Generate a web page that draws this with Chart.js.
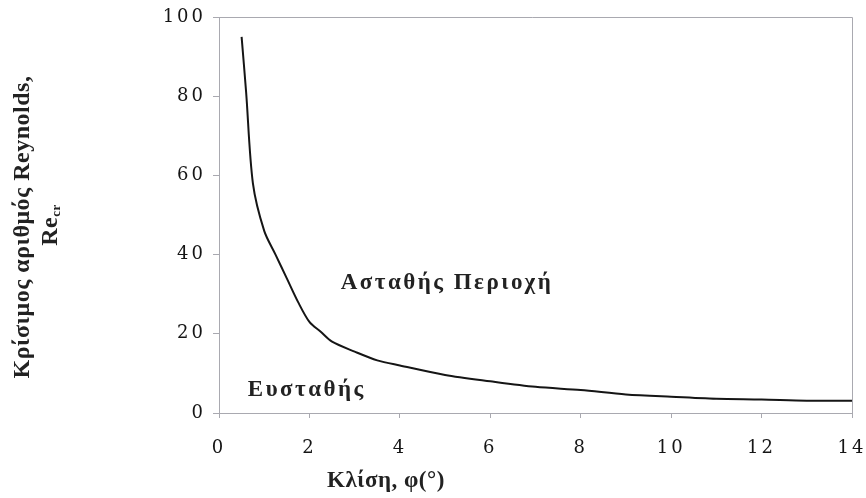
<!DOCTYPE html>
<html>
<head>
<meta charset="utf-8">
<script src="https://cdn.jsdelivr.net/npm/chart.js@4/dist/chart.umd.min.js"></script>
<style>
  html, body { margin: 0; padding: 0; background: #fff; }
  #wrap { width: 866px; height: 498px; }
</style>
</head>
<body>
<div id="wrap"><canvas id="myChart" width="866" height="498"></canvas></div>
<script>
// inclination (deg) vs critical Reynolds number
let angles = [0.5, 0.6, 0.75, 1, 1.25, 1.5, 1.75, 2, 2.25, 2.5, 3, 3.5, 4, 5, 6, 7, 8, 9, 10, 11, 12, 13, 14];
let reCritical = [95, 81, 58, 46, 40, 34, 28, 23, 20.5, 18, 15.5, 13.3, 12, 9.6, 8, 6.6, 5.8, 4.7, 4.1, 3.6, 3.4, 3.1, 3.1];

let xTicks = [0, 2, 4, 6, 8, 10, 12, 14];
let yTicks = [0, 20, 40, 60, 80, 100];

let axisColor = '#a9a9b0';
let serif = '"Liberation Serif", "DejaVu Serif", serif';
let tickFont = '"DejaVu Serif", serif';

// labels drawn by hand: titles, region names, frame
const extrasPlugin = {
    id: 'extras',
    beforeDraw(chart) {
        chart.ctx.letterSpacing = '3px';
    },
    afterDraw(chart) {
        const ctx = chart.ctx;
        const area = chart.chartArea;
        const xs = chart.scales.x;
        const ys = chart.scales.y;

        // top and right frame lines
        ctx.save();
        ctx.strokeStyle = axisColor;
        ctx.lineWidth = 1;
        ctx.beginPath();
        ctx.moveTo(area.left - 6, area.top + 0.5);
        ctx.lineTo(area.right + 0.5, area.top + 0.5);
        ctx.lineTo(area.right + 0.5, area.bottom);
        ctx.stroke();
        ctx.restore();

        ctx.save();
        ctx.fillStyle = '#222';
        ctx.textBaseline = 'middle';
        ctx.textAlign = 'center';

        // region labels
        ctx.letterSpacing = '2.5px';
        ctx.font = 'bold 23px ' + serif;
        ctx.fillText('Ασταθής Περιοχή', xs.getPixelForValue(5.02) + 1, ys.getPixelForValue(32.8));
        ctx.fillText('Ευσταθής', xs.getPixelForValue(1.92) + 1, ys.getPixelForValue(5.8));

        // x title
        ctx.letterSpacing = '0.5px';
        ctx.font = 'bold 23px ' + serif;
        ctx.fillText('Κλίση, φ(°)', 386, 481);

        // y title, two lines, rotated
        ctx.save();
        ctx.translate(23, 227);
        ctx.rotate(-Math.PI / 2);
        ctx.font = 'bold 24px ' + serif;
        ctx.fillText('Κρίσιμος αριθμός Reynolds,', 0, 0);
        ctx.restore();

        ctx.save();
        ctx.translate(51, 225);
        ctx.rotate(-Math.PI / 2);
        ctx.textAlign = 'left';
        ctx.font = 'bold 24px ' + serif;
        const reW = ctx.measureText('Re').width;
        ctx.font = 'bold 13px ' + serif;
        const crW = ctx.measureText('cr').width;
        const start = -(reW + crW) / 2;
        ctx.font = 'bold 24px ' + serif;
        ctx.fillText('Re', start, 0);
        ctx.font = 'bold 13px ' + serif;
        ctx.fillText('cr', start + reW, 6);
        ctx.restore();

        ctx.restore();
    }
};

window.addEventListener("DOMContentLoaded", () => {
    const ctx = document.getElementById('myChart');
    const points = angles.map((a, i) => ({ x: a, y: reCritical[i] }));

    new Chart(ctx, {
        type: 'scatter',
        data: {
            datasets: [{
                label: 'Re_cr',
                data: points,
                showLine: true,
                borderColor: '#151515',
                borderWidth: 2,
                pointRadius: 0,
                tension: 0.3,
                fill: false
            }]
        },
        options: {
            responsive: false,
            animation: false,
            layout: {
                padding: { top: 17, right: 14, left: 0, bottom: 0 }
            },
            plugins: {
                legend: { display: false },
                tooltip: { enabled: false }
            },
            scales: {
                x: {
                    type: 'linear',
                    min: 0,
                    max: 14,
                    afterBuildTicks: (scale) => { scale.ticks = xTicks.map(v => ({ value: v })); },
                    afterFit: (scale) => {
                        scale.height = 85;
                        scale.paddingLeft = 0;
                        scale.paddingRight = 0;
                    },
                    grid: { drawOnChartArea: false, color: axisColor, tickLength: 5 },
                    border: { color: axisColor },
                    ticks: {
                        color: '#151515',
                        padding: 20,
                        maxRotation: 0,
                        font: { family: tickFont, size: 18 }
                    }
                },
                y: {
                    min: 0,
                    max: 100,
                    afterBuildTicks: (scale) => { scale.ticks = yTicks.map(v => ({ value: v })); },
                    afterFit: (scale) => {
                        scale.width = 219;
                        scale.paddingTop = 0;
                        scale.paddingBottom = 0;
                    },
                    grid: { drawOnChartArea: false, color: axisColor, tickLength: 6 },
                    border: { color: axisColor },
                    ticks: {
                        color: '#151515',
                        padding: 7,
                        font: { family: tickFont, size: 18 }
                    }
                }
            }
        },
        plugins: [extrasPlugin]
    });
});
</script>
</body>
</html>
